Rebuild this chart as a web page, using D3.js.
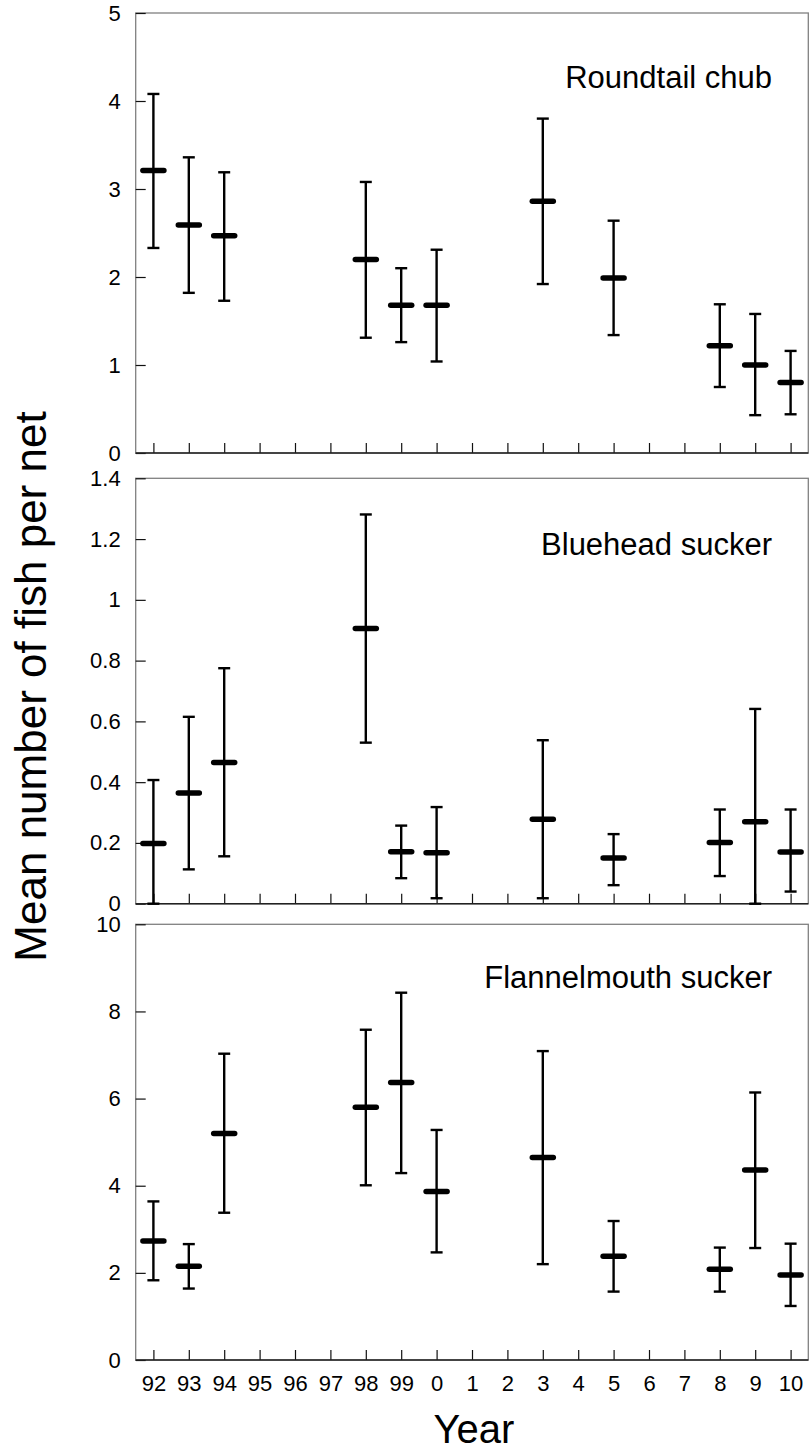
<!DOCTYPE html>
<html>
<head>
<meta charset="utf-8">
<script src="https://cdn.jsdelivr.net/npm/d3@7"></script>
<style>
  html, body { margin: 0; padding: 0; background: #fff; }
  svg { display: block; font-family: "Liberation Sans", Arial, sans-serif; }
</style>
</head>
<body>
<svg id="chart" width="812" height="1452"></svg>
<script>
// Year tick labels along the shared x axis (1992–2010)
const years = ["92","93","94","95","96","97","98","99","0","1","2","3","4","5","6","7","8","9","10"];
// Years in which nets were set
const sampledYears = ["92","93","94","98","99","0","3","5","8","9","10"];

// Roundtail chub: mean and error-bar limits per sampled year
const chubMean  = [3.21, 2.59, 2.47, 2.20, 1.68, 1.68, 2.86, 1.99, 1.22, 1.00, 0.80];
const chubUpper = [4.08, 3.36, 3.19, 3.08, 2.10, 2.31, 3.80, 2.64, 1.69, 1.58, 1.16];
const chubLower = [2.33, 1.82, 1.73, 1.31, 1.26, 1.04, 1.92, 1.34, 0.75, 0.43, 0.44];

// Bluehead sucker
const blueheadMean  = [0.198, 0.364, 0.465, 0.906, 0.171, 0.168, 0.278, 0.150, 0.201, 0.270, 0.170];
const blueheadUpper = [0.407, 0.615, 0.775, 1.281, 0.257, 0.318, 0.538, 0.229, 0.310, 0.641, 0.310];
const blueheadLower = [0.000, 0.113, 0.156, 0.530, 0.084, 0.018, 0.018, 0.061, 0.091, 0.000, 0.040];

// Flannelmouth sucker
const flannelMean  = [2.73, 2.15, 5.20, 5.80, 6.37, 3.87, 4.65, 2.38, 2.08, 4.36, 1.95];
const flannelUpper = [3.64, 2.66, 7.03, 7.58, 8.43, 5.28, 7.09, 3.19, 2.58, 6.14, 2.67];
const flannelLower = [1.83, 1.64, 3.38, 4.01, 4.29, 2.47, 2.20, 1.57, 1.57, 2.57, 1.24];

// y-axis ticks for each panel
const chubTicks     = [0, 1, 2, 3, 4, 5];
const blueheadTicks = [0, 0.2, 0.4, 0.6, 0.8, 1, 1.2, 1.4];
const flannelTicks  = [0, 2, 4, 6, 8, 10];

const panels = [
  { name: "Roundtail chub",      mean: chubMean,     upper: chubUpper,     lower: chubLower,     ticks: chubTicks,     max: 5,   top: 13,    bottom: 453,  labelY: 88 },
  { name: "Bluehead sucker",     mean: blueheadMean, upper: blueheadUpper, lower: blueheadLower, ticks: blueheadTicks, max: 1.4, top: 478.3, bottom: 903.7, labelY: 555 },
  { name: "Flannelmouth sucker", mean: flannelMean,  upper: flannelUpper,  lower: flannelLower,  ticks: flannelTicks,  max: 10,  top: 924.3, bottom: 1360, labelY: 988 }
];

const left = 135.7, right = 808.3;
const svg = d3.select("#chart");

const x = d3.scalePoint().domain(years).range([left, right]).padding(0.5);

panels.forEach((p, pi) => {
  const y = d3.scaleLinear().domain([0, p.max]).range([p.bottom, p.top]);
  const g = svg.append("g");

  // frame
  g.append("rect")
    .attr("x", left).attr("y", p.top)
    .attr("width", right - left).attr("height", p.bottom - p.top)
    .attr("fill", "none").attr("stroke", "#808080").attr("stroke-width", 1.3);

  // y axis with inward ticks
  const yAxis = d3.axisLeft(y).tickValues(p.ticks).tickSize(-10).tickPadding(15)
    .tickFormat(d3.format("~g"));
  const ya = g.append("g").attr("transform", `translate(${left},0)`).call(yAxis);
  ya.select(".domain").remove();
  ya.selectAll(".tick line").attr("stroke", "#111").attr("stroke-width", 1.2);
  ya.selectAll(".tick text").attr("font-size", 22).attr("fill", "#000")
    .attr("font-family", "Liberation Sans, Arial, sans-serif");

  // x axis with inward ticks; labels only on the lowest panel
  const isLast = pi === panels.length - 1;
  const xAxis = d3.axisBottom(x).tickSize(-10).tickPadding(15);
  if (!isLast) xAxis.tickFormat("");
  const xa = g.append("g").attr("transform", `translate(0,${p.bottom})`).call(xAxis);
  xa.select(".domain").remove();
  xa.selectAll(".tick line").attr("stroke", "#111").attr("stroke-width", 1.2);
  xa.selectAll(".tick text").attr("font-size", 22).attr("fill", "#000")
    .attr("font-family", "Liberation Sans, Arial, sans-serif");

  // bottom axis line
  g.append("line")
    .attr("x1", left).attr("x2", right)
    .attr("y1", p.bottom).attr("y2", p.bottom)
    .attr("stroke", "#222").attr("stroke-width", 1.6);

  const rows = sampledYears.map((yr, i) => ({ yr, m: p.mean[i], hi: p.upper[i], lo: p.lower[i] }));
  const bars = g.append("g").selectAll("g").data(rows).join("g")
    .attr("transform", d => `translate(${x(d.yr)},0)`);

  // whisker
  bars.append("line")
    .attr("x1", 0).attr("x2", 0)
    .attr("y1", d => y(d.hi)).attr("y2", d => y(d.lo))
    .attr("stroke", "#000").attr("stroke-width", 2.4);
  // caps
  bars.append("line")
    .attr("x1", -6).attr("x2", 6)
    .attr("y1", d => y(d.hi)).attr("y2", d => y(d.hi))
    .attr("stroke", "#000").attr("stroke-width", 2.4);
  bars.append("line")
    .attr("x1", -6).attr("x2", 6)
    .attr("y1", d => y(d.lo)).attr("y2", d => y(d.lo))
    .attr("stroke", "#000").attr("stroke-width", 2.4);
  // mean marker
  bars.append("line")
    .attr("x1", -10.5).attr("x2", 10.5)
    .attr("y1", d => y(d.m)).attr("y2", d => y(d.m))
    .attr("stroke", "#000").attr("stroke-width", 5.5).attr("stroke-linecap", "round");

  // species name
  g.append("text")
    .attr("x", 772).attr("y", p.labelY)
    .attr("text-anchor", "end")
    .attr("font-size", 31)
    .attr("fill", "#000")
    .text(p.name);
});

// axis titles
svg.append("text")
  .attr("transform", `translate(46,${(13 + 1360) / 2}) rotate(-90)`)
  .attr("text-anchor", "middle")
  .attr("font-size", 44)
  .attr("fill", "#000")
  .text("Mean number of fish per net");

svg.append("text")
  .attr("x", 474).attr("y", 1443)
  .attr("text-anchor", "middle")
  .attr("font-size", 40)
  .attr("fill", "#000")
  .text("Year");
</script>
</body>
</html>
